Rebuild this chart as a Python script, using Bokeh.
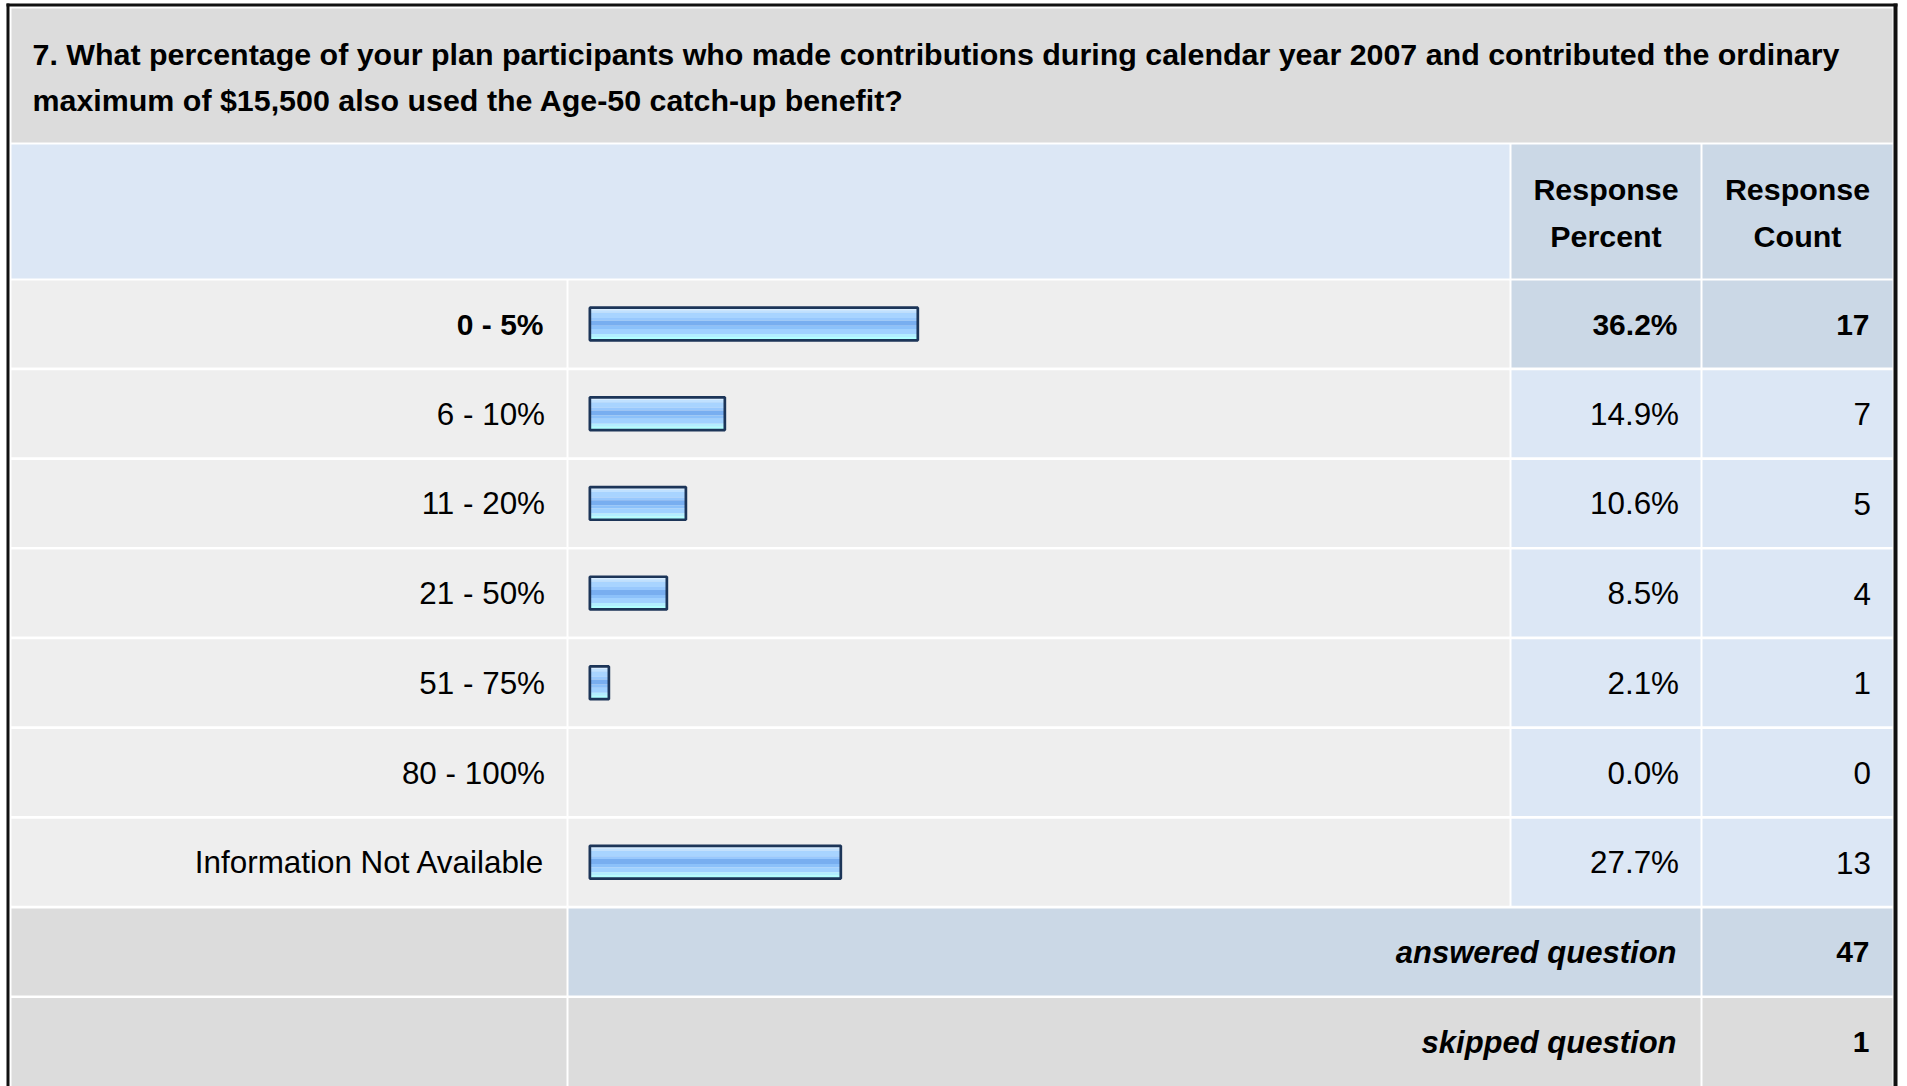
from bokeh.plotting import figure
from bokeh.models import Range1d, ColumnDataSource, CDSView, BooleanFilter
from bokeh.transform import dodge
from bokeh.core.properties import value
from bokeh.embed import file_html
from bokeh.resources import INLINE

# ---------------- data ----------------
title_lines = [
    "7. What percentage of your plan participants who made contributions during calendar year 2007 and contributed the ordinary",
    "maximum of $15,500 also used the Age-50 catch-up benefit?",
]
header_percent = ["Response", "Percent"]
header_count = ["Response", "Count"]
categories = ["0 - 5%", "6 - 10%", "11 - 20%", "21 - 50%", "51 - 75%", "80 - 100%",
              "Information Not Available"]
percents = [36.2, 14.9, 10.6, 8.5, 2.1, 0.0, 27.7]
counts = [17, 7, 5, 4, 1, 0, 13]
summary_labels = ["answered question", "skipped question"]
summary_counts = [47, 1]

# ---------------- layout / style ----------------
W, H = 1907, 1086
FONT = value("Liberation Sans")
C_TITLE = "#DCDCDC"
C_HEAD_LIGHT = "#DCE7F5"
C_HEAD_DARK = "#CBD8E6"
C_ROW = "#EEEEEE"
C_ROW_BLUE = "#DCE7F5"
C_SUM_GRAY = "#DCDCDC"
ROW0 = 323.5      # y of first data-row centre
PITCH = 89.7
CELL_H = 87.0
TXT_SHIFT = 12.0  # svg text renders this much below the given baseline

col_label = (11, 566)
col_bar = (568, 1509)
col_pct = (1511, 1700)
col_cnt = (1702, 1892)

p = figure(width=W, height=H, x_range=Range1d(0, W), y_range=Range1d(H, 0),
           output_backend="svg", toolbar_location=None,
           x_axis_location=None, y_axis_location=None, min_border=0)
p.outline_line_color = None
p.grid.visible = False
p.background_fill_color = "white"
p.border_fill_color = "white"

PX_PER_PCT = 9.06
ZERO_X = 589.35
p.extra_x_ranges = {"pct": Range1d(-ZERO_X / PX_PER_PCT, (W - ZERO_X) / PX_PER_PCT)}
p.extra_y_ranges = {"rows": Range1d((H - ROW0) / PITCH, -ROW0 / PITCH)}

# ---------------- cells ----------------
L, R, T, B, C = [], [], [], [], []
def cell(x0, x1, y0, y1, c):
    L.append(x0); R.append(x1); T.append(y0); B.append(y1); C.append(c)

cell(11, 1892, 8, 142, C_TITLE)
cell(col_label[0], col_bar[1], 144, 278, C_HEAD_LIGHT)
cell(col_pct[0], col_pct[1], 144, 278, C_HEAD_DARK)
cell(col_cnt[0], col_cnt[1], 144, 278, C_HEAD_DARK)

hi = percents.index(max(percents))
n = len(categories)
for i in range(n):
    top = ROW0 - CELL_H / 2 + PITCH * i
    bot = top + CELL_H
    cell(col_label[0], col_label[1], top, bot, C_ROW)
    cell(col_bar[0], col_bar[1], top, bot, C_ROW)
    blue = C_HEAD_DARK if i == hi else C_ROW_BLUE
    cell(col_pct[0], col_pct[1], top, bot, blue)
    cell(col_cnt[0], col_cnt[1], top, bot, blue)
for j in range(len(summary_labels)):
    top = ROW0 - CELL_H / 2 + PITCH * (n + j)
    bot = top + CELL_H if j == 0 else H
    c = C_HEAD_DARK if j == 0 else C_SUM_GRAY
    cell(col_label[0], col_label[1], top, bot, C_SUM_GRAY)
    cell(col_bar[0], col_pct[1], top, bot, c)
    cell(col_cnt[0], col_cnt[1], top, bot, c)

p.quad(left=L, right=R, top=T, bottom=B, fill_color=C, line_color=None)

# outer black border (top / left / right)
p.quad(left=[6, 6, 1893], right=[1897, 9, 1897], top=[3, 3, 3], bottom=[6, H, H],
       fill_color="#111111", line_color=None)

# ---------------- bars ----------------
src = ColumnDataSource(dict(row=list(range(n)), pct=percents, cat=categories,
                            ptxt=[f"{v:.1f}%" for v in percents],
                            ctxt=[str(v) for v in counts]))
nz = CDSView(filter=BooleanFilter([v > 0 for v in percents]))
# gradient stripes: (top px, bottom px, colour) relative to the bar centre
stripes = [(-15.5, -13.8, "#D6ECFF"), (-13.8, -11.5, "#C0E1FF"), (-11.5, -6.0, "#A8D4FF"),
           (-6.0, -3.2, "#98C8FD"), (-3.2, 1.8, "#78AEF0"), (1.8, 5.0, "#8CC1FA"),
           (5.0, 10.0, "#A0D1FF"), (10.0, 13.0, "#B2EEFF"), (13.0, 16.0, "#B0FFFF")]
for y0, y1, col in stripes:
    p.hbar(y=dodge("row", (y0 + y1) / 2 / PITCH), height=(y1 - y0) / PITCH, left=0,
           right="pct", source=src, view=nz, x_range_name="pct", y_range_name="rows",
           fill_color=col, line_color=None)
p.hbar(y="row", height=32.7 / PITCH, left=0, right="pct", source=src, view=nz,
       x_range_name="pct", y_range_name="rows", fill_color=None,
       line_color="#1C3558", line_width=2.7)

# ---------------- texts ----------------
p.text(x=[32, 32], y=[65 - TXT_SHIFT, 111 - TXT_SHIFT], text=title_lines, text_font=FONT,
       text_font_size="30.4px", text_font_style="bold", text_color="black",
       text_baseline="alphabetic", text_align="left")
hx = (col_pct[0] + col_pct[1]) / 2
cx = (col_cnt[0] + col_cnt[1]) / 2
p.text(x=[hx, hx, cx, cx], y=[200 - TXT_SHIFT, 247 - TXT_SHIFT] * 2,
       text=header_percent + header_count, text_font=FONT, text_font_size="30.4px",
       text_font_style="bold", text_color="black", text_baseline="alphabetic",
       text_align="center")

bold_v = CDSView(filter=BooleanFilter([i == hi for i in range(n)]))
norm_v = CDSView(filter=BooleanFilter([i != hi for i in range(n)]))
for view, style, size, dx in [(bold_v, "bold", "30px", 0), (norm_v, "normal", "31.4px", 1.5)]:
    for fld, x in [("cat", 543), ("ptxt", 1677), ("ctxt", 1869)]:
        p.text(x=x + dx, y="row", text=fld, source=src, view=view, y_range_name="rows",
               y_offset=12.5 - TXT_SHIFT, text_font=FONT, text_font_size=size,
               text_font_style=style, text_color="black",
               text_baseline="alphabetic", text_align="right")

sum_src = ColumnDataSource(dict(row=[n + j for j in range(len(summary_labels))],
                                lab=summary_labels,
                                cnt=[str(v) for v in summary_counts]))
p.text(x=1676, y="row", text="lab", source=sum_src, y_range_name="rows",
       y_offset=12.5 - TXT_SHIFT, text_font=FONT, text_font_size="31px",
       text_font_style="bold italic", text_color="black",
       text_baseline="alphabetic", text_align="right")
p.text(x=1869, y="row", text="cnt", source=sum_src, y_range_name="rows",
       y_offset=12.5 - TXT_SHIFT, text_font=FONT, text_font_size="30px",
       text_font_style="bold", text_color="black",
       text_baseline="alphabetic", text_align="right")

open("out.html", "w").write(file_html(p, INLINE))
